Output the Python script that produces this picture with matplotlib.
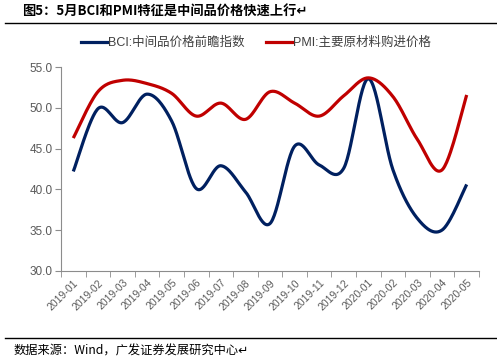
import numpy as np
import matplotlib
matplotlib.use('Agg')
import matplotlib.pyplot as plt
from matplotlib.lines import Line2D

plt.rcParams['font.family'] = ['Liberation Sans', 'Noto Sans CJK SC', 'DejaVu Sans']
plt.rcParams['axes.unicode_minus'] = False

months = ['2019-01', '2019-02', '2019-03', '2019-04', '2019-05', '2019-06',
          '2019-07', '2019-08', '2019-09', '2019-10', '2019-11', '2019-12',
          '2020-01', '2020-02', '2020-03', '2020-04', '2020-05']
bci = [42.2, 49.9, 48.2, 51.7, 48.4, 40.1, 42.9, 39.7, 35.8, 45.3,
       43.0, 42.6, 53.6, 42.4, 36.4, 35.0, 40.6]
pmi = [46.3, 52.0, 53.4, 53.0, 51.8, 49.0, 50.6, 48.6, 52.0, 50.6,
       49.0, 51.5, 53.7, 51.4, 46.1, 42.4, 51.6]

NAVY = '#002060'
RED = '#C00000'
GREY = '#595959'


def smooth(xs, ys, n=30, t=0.5):
    # Excel 风格平滑线：Catmull-Rom 样条，穿过每个数据点
    xs = np.asarray(xs, float)
    ys = np.asarray(ys, float)
    px, py = [], []
    for i in range(len(xs) - 1):
        x0, y0 = (xs[i - 1], ys[i - 1]) if i > 0 else (xs[i], ys[i])
        x3, y3 = (xs[i + 2], ys[i + 2]) if i + 2 < len(xs) else (xs[i + 1], ys[i + 1])
        x1, y1, x2, y2 = xs[i], ys[i], xs[i + 1], ys[i + 1]
        c1x, c1y = x1 + (x2 - x0) * t / 3, y1 + (y2 - y0) * t / 3
        c2x, c2y = x2 - (x3 - x1) * t / 3, y2 - (y3 - y1) * t / 3
        s = np.linspace(0, 1, n)
        bx = (1 - s) ** 3 * x1 + 3 * (1 - s) ** 2 * s * c1x + 3 * (1 - s) * s ** 2 * c2x + s ** 3 * x2
        by = (1 - s) ** 3 * y1 + 3 * (1 - s) ** 2 * s * c1y + 3 * (1 - s) * s ** 2 * c2y + s ** 3 * y2
        px.extend(bx)
        py.extend(by)
    return px, py


fig = plt.figure(figsize=(4.97, 3.62), dpi=100)
ax = fig.add_axes([61 / 497, 1 - 270.7 / 362, (479 - 61) / 497, (270.7 - 67.3) / 362])

x = np.arange(len(months))
ax.plot(*smooth(x, bci), color=NAVY, lw=2.3, solid_capstyle='butt')
ax.plot(*smooth(x, pmi), color=RED, lw=2.3, solid_capstyle='butt')

ax.set_xlim(-0.5, len(months) - 0.5)
ax.set_ylim(30, 55)
yt = np.arange(30, 55.1, 5)
ax.set_yticks(yt)
ax.set_yticklabels([f'{v:.1f}' for v in yt], fontsize=8.5, color=GREY)
ax.set_xticks(x)
ax.set_xticklabels(months, rotation=45, ha='right', rotation_mode='anchor',
                   fontsize=7.5, color=GREY)
ax.set_xticks(np.arange(-0.5, len(months), 1), minor=True)
ax.tick_params(axis='x', which='major', length=0, pad=5)
ax.tick_params(axis='x', which='minor', length=4, color='#8c8c8c', direction='out')
ax.tick_params(axis='y', length=4, color='#8c8c8c', direction='out', pad=2)
for side in ['top', 'right']:
    ax.spines[side].set_visible(False)
ax.spines['left'].set_color('#8c8c8c')
ax.spines['bottom'].set_color('#8c8c8c')

handles = [Line2D([], [], color=NAVY, lw=2.3), Line2D([], [], color=RED, lw=2.3)]
fig.legend(handles, ['BCI:中间品价格前瞻指数', 'PMI:主要原材料购进价格'],
           loc='center', bbox_to_anchor=(256 / 497, 1 - 43 / 362), ncol=2,
           frameon=False, fontsize=9, handlelength=2.1, handletextpad=0.1,
           columnspacing=1.7, labelcolor='#404040')

# 标题与来源
fig.text(22 / 497, 1 - 12 / 362, '图5：5月BCI和PMI特征是中间品价格快速上行↵',
         fontsize=9.5, fontweight='bold', va='center', ha='left',
         family=['Noto Sans CJK SC', 'DejaVu Sans'])
fig.add_artist(Line2D([5 / 497, 1], [1 - 23 / 362] * 2, color='black', lw=1.0))
fig.add_artist(Line2D([5 / 497, 1], [1 - 338 / 362] * 2, color='black', lw=1.0))
fig.text(14 / 497, 1 - 351 / 362, '数据来源：Wind，广发证券发展研究中心↵',
         fontsize=8.8, va='center', ha='left',
         family=['Noto Sans CJK SC', 'DejaVu Sans'])

fig.savefig('out.png', dpi=100, facecolor='white')
